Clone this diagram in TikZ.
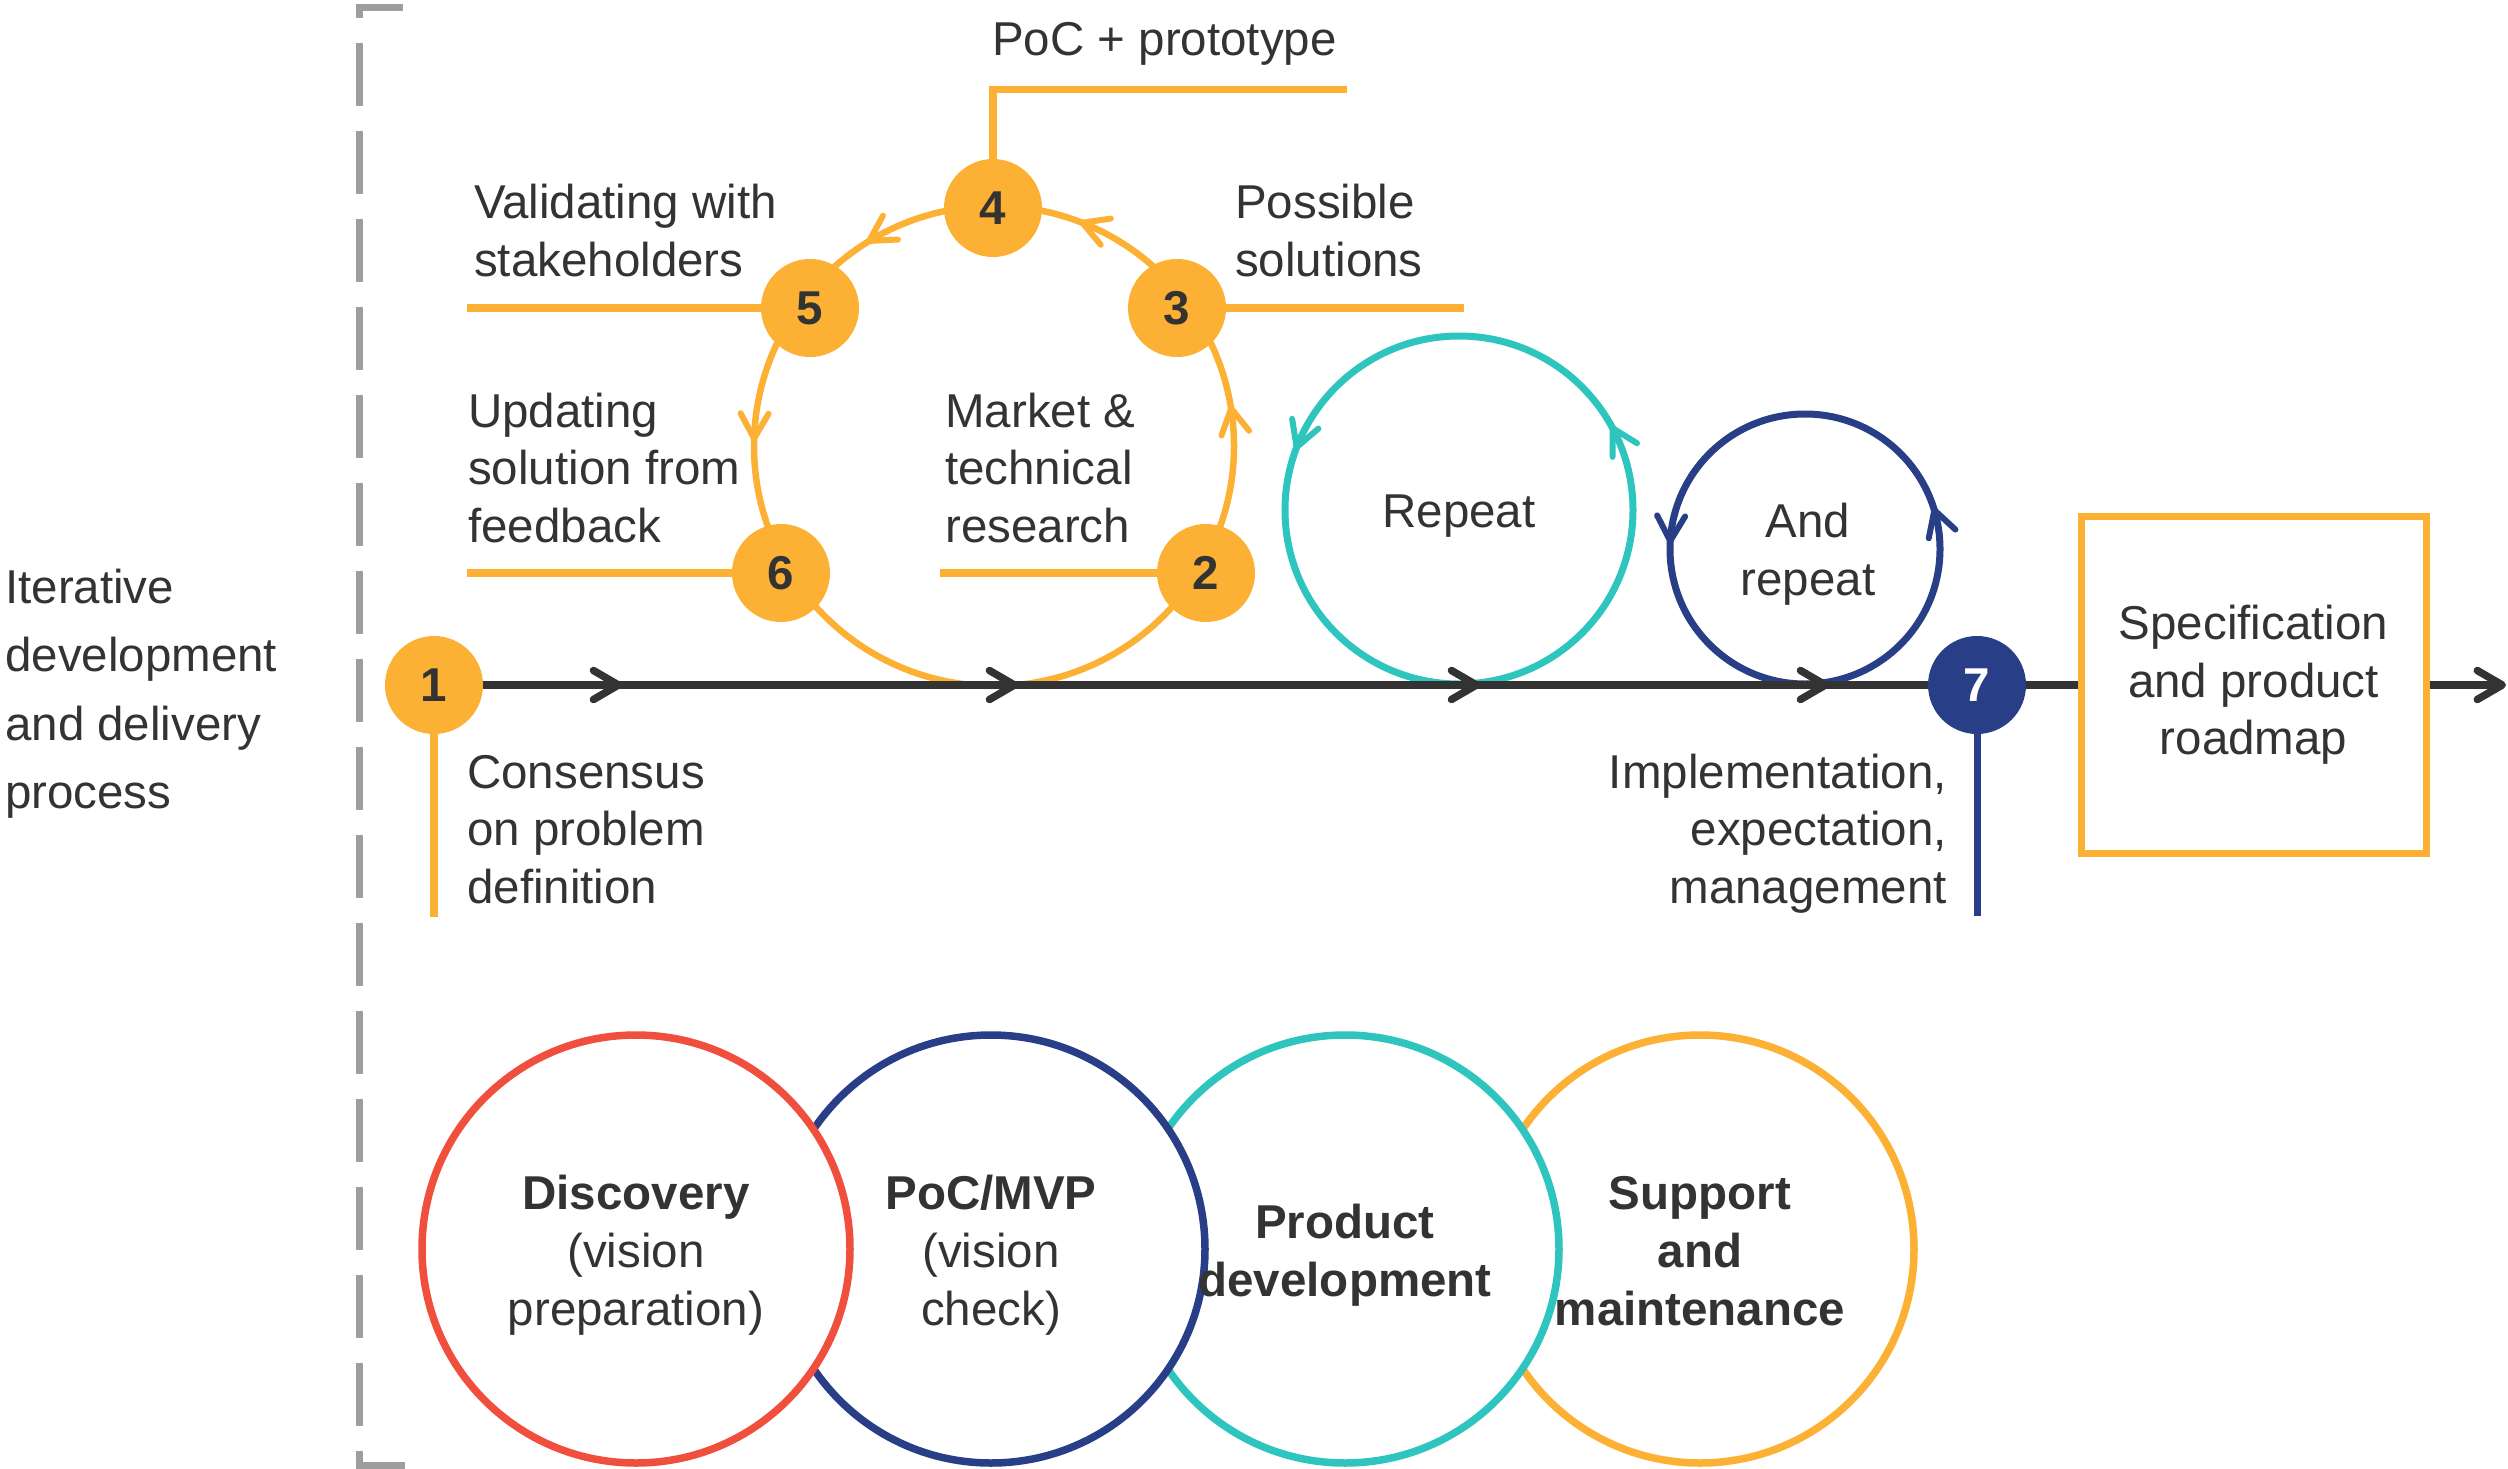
\documentclass[tikz,border=0pt]{standalone}
\usepackage{fontspec}
\setmainfont{Liberation Sans}
\usetikzlibrary{arrows.meta,decorations.markings}

\definecolor{ink}{HTML}{333333}
\definecolor{amber}{HTML}{FCB034}
\definecolor{aqua}{HTML}{2EC5BF}
\definecolor{indigo}{HTML}{283F88}
\definecolor{coral}{HTML}{F04F3E}
\definecolor{rulegray}{HTML}{9E9E9E}

\newcommand{\bodyfont}{\fontsize{47.5}{57.6}\selectfont}

\tikzset{
  bigtip/.tip={Straight Barb[length=25pt,width=29pt,line width=7.5pt,round]},
  looptip/.tip={Straight Barb[length=25pt,width=28pt,line width=6pt,round]},
}

\begin{document}
\begin{tikzpicture}[x=1pt,y=1pt,
  txt/.style={font=\bodyfont, text=ink, inner sep=0pt},
  stepnum/.style={circle, fill=amber, minimum size=98pt, inner sep=0pt,
                  font=\fontsize{47.5}{57.6}\selectfont\bfseries, text=ink},
  leader/.style={amber, line width=7.5pt},
  axisline/.style={ink, line width=8pt},
  phasering/.style={circle, draw=#1, line width=7.5pt, fill=white,
                    minimum size=428pt, inner sep=0pt},
]
\useasboundingbox (0,-1469) rectangle (2508,0);

% dashed bracket on the left
\draw[rulegray, line width=7pt] (355.5,-8) -- (403,-8);
\draw[rulegray, line width=7pt, dash pattern=on 63pt off 25pt, dash phase=53pt]
  (359,-8) -- (359,-1465);
\draw[rulegray, line width=7pt] (355.5,-1465) -- (405,-1465);

% multi-line nodes are anchored on the baseline of their last line
\node[txt, font=\fontsize{47.5}{68.5}\selectfont, align=left, anchor=base west]
  (process) at (5,-808.5) {Iterative\\development\\and delivery\\process};

% research loop and repeat loops
\coordinate (loopc) at (994,-446);
\draw[amber, line width=6.5pt, postaction={decorate}, decoration={markings,
    mark=at position 0.027 with {\arrow{looptip}},
    mark=at position 0.192 with {\arrow{looptip}},
    mark=at position 0.339 with {\arrow{looptip}},
    mark=at position 0.497 with {\arrow{looptip}}}]
  (loopc) circle[radius=240];

\coordinate (rc) at (1459,-510);
\draw[aqua, line width=7pt, postaction={decorate}, decoration={markings,
    mark=at position 0.0806 with {\arrow{looptip}},
    mark=at position 0.444 with {\arrow{looptip}}}]
  (rc) circle[radius=174];
\node[txt, anchor=base] (rep) at (1459,-527) {Repeat};

\coordinate (ac) at (1805,-549);
\draw[indigo, line width=7pt, postaction={decorate}, decoration={markings,
    mark=at position 0.05 with {\arrow{looptip}},
    mark=at position 0.494 with {\arrow{looptip}}}]
  (ac) circle[radius=135];
\node[txt, align=center, anchor=base] (andrep) at (1808,-595.5) {And\\repeat};

% numbered steps
\node[stepnum] (n1) at (434,-685) {1};
\node[stepnum] (n2) at (1206,-573) {2};
\node[stepnum] (n3) at (1177,-308) {3};
\node[stepnum] (n4) at (993,-208) {4};
\node[stepnum] (n5) at (810,-308) {5};
\node[stepnum] (n6) at (781,-573) {6};
\node[stepnum, fill=indigo, text=white] (n7) at (1977,-685) {7};

\node[draw=amber, line width=7pt, minimum width=345pt, minimum height=337pt,
      txt, align=center] (spec) at (2253.5,-685) {Specification\\and product\\roadmap};

% leader lines
\coordinate (l1) at (434,-917);
\coordinate (l2) at (940,-573);
\coordinate (l3) at (1464,-308);
\coordinate (l4) at (1347,-89.5);
\coordinate (l5) at (467,-308);
\coordinate (l6) at (467,-573);
\coordinate (l7) at (1977,-916);
\draw[leader] (n1) -- (l1);
\draw[leader] (n2) -- (l2);
\draw[leader] (n3) -- (l3);
\draw[leader] (n4) |- (l4);
\draw[leader] (n5) -- (l5);
\draw[leader] (n6) -- (l6);
\draw[indigo, line width=7pt] (n7) -- (l7);

% main timeline
\coordinate (tip) at (2506,-685);
\draw[axisline, postaction={decorate}, decoration={markings,
    mark=at position 139pt with {\arrow{bigtip}},
    mark=at position 535pt with {\arrow{bigtip}},
    mark=at position 997pt with {\arrow{bigtip}},
    mark=at position 1346pt with {\arrow{bigtip}}}]
  (n1) -- (n7);
\draw[axisline] (n7) -- (spec);
\draw[axisline, -{bigtip}] (spec) -- (tip);

% step labels
\node[txt, anchor=base west] (t4) at (992,-56) {PoC + prototype};
\node[txt, align=left, anchor=base west] (t5) at (474,-276.5) {Validating with\\stakeholders};
\node[txt, align=left, anchor=base west] (t3) at (1235,-276.5) {Possible\\solutions};
\node[txt, align=left, anchor=base west] (t6) at (468,-542.5) {Updating\\solution from\\feedback};
\node[txt, align=left, anchor=base west] (t2) at (945,-542.5) {Market \&\\technical\\research};
\node[txt, align=left, anchor=base west] (t1) at (467,-903.5) {Consensus\\on problem\\definition};
\node[txt, align=right, anchor=base east] (t7) at (1947,-903.5) {Implementation,\\expectation,\\management};

% lifecycle phases
\node[phasering=amber]  (ph4) at (1700,-1249) {};
\node[phasering=aqua]   (ph3) at (1345,-1249) {};
\node[phasering=indigo] (ph2) at (991,-1249) {};
\node[phasering=coral]  (ph1) at (636,-1249) {};

\node[txt, align=center, anchor=base] (p1) at (636,-1325) {\textbf{Discovery}\\(vision\\preparation)};
\node[txt, align=center, anchor=base] (p2) at (991,-1325) {\textbf{PoC/MVP}\\(vision\\check)};
\node[txt, align=center, anchor=base, font=\fontsize{47.5}{57.6}\selectfont\bfseries] (p3) at (1345,-1296) {Product\\development};
\node[txt, align=center, anchor=base, font=\fontsize{47.5}{57.6}\selectfont\bfseries] (p4) at (1700,-1325) {Support\\and\\maintenance};
\end{tikzpicture}
\end{document}
